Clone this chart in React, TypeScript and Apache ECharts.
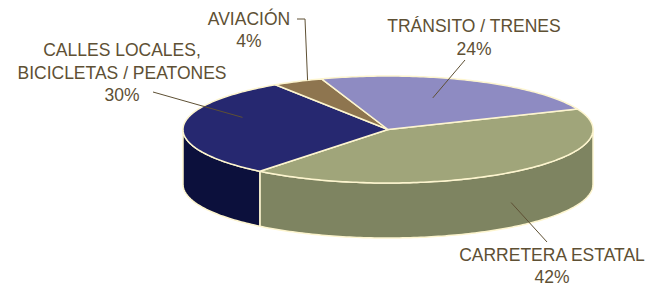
import React, { useEffect, useRef } from "react";
import * as echarts from "echarts";

// ---- data ----
const categories = [
  "CARRETERA ESTATAL",
  "CALLES LOCALES,\nBICICLETAS / PEATONES",
  "AVIACIÓN",
  "TRÁNSITO / TRENES",
];
const values = [42, 30, 4, 24];

// ---- styles ----
const topColors = ["#A0A57A", "#262870", "#8E754F", "#8E8BC2"];
const sideColors = ["#7E8461", "#0C103C", "#6E5A3A", "#6E6BA0"];
const EDGE = "#FDF5CF";
const TEXT = "#5E5034";

// ---- layout ----
const CX = 388;
const CY = 129.5;
const RX = 205;
const RY = 53.5;
const DEPTH = 55;
const START = -22.5;
const labelCenters = [
  [552, 266],
  [122, 72.5],
  [249, 30],
  [474, 37.5],
];
const anchorRadius = [1, 0.745, 1.0, 0.63];
const anchorAngleOffset = [0, 15, 3, -4];
const anchorDepth = [0.55, 0, 0, 0];
const leaderEnds = [
  [[547, 242]],
  [[153, 92]],
  [
    [305, 19],
    [297, 19],
  ],
  [[465, 60]],
];

const pt = (deg: number, dy = 0, k = 1) => {
  const r = (deg * Math.PI) / 180;
  return [CX + RX * k * Math.cos(r), CY + RY * k * Math.sin(r) + dy];
};

export default function App() {
  const ref = useRef<HTMLDivElement>(null);
  useEffect(() => {
    if (!ref.current) return;
    const chart = echarts.init(ref.current, null, { renderer: "svg" });
    const total = values.reduce((a, b) => a + b, 0);
    chart.setOption({
      animation: false,
      backgroundColor: "#ffffff",
      series: [
        {
          type: "custom",
          coordinateSystem: "none",
          data: values,
          renderItem: (params: any, api: any) => {
            const i = params.dataIndex;
            let a0 = START;
            for (let k = 0; k < i; k++) a0 += (values[k] / total) * 360;
            const a1 = a0 + (api.value(0) / total) * 360;
            const children: any[] = [];
            // side wall (only the front half is visible)
            for (const off of [-360, 0, 360]) {
              const lo = Math.max(a0, off);
              const hi = Math.min(a1, off + 180);
              if (hi > lo) {
                const top: number[][] = [];
                const bot: number[][] = [];
                const n = Math.max(2, Math.ceil(hi - lo));
                for (let s = 0; s <= n; s++) {
                  const d = lo + ((hi - lo) * s) / n;
                  top.push(pt(d));
                  bot.push(pt(d, DEPTH));
                }
                children.push({
                  type: "polygon",
                  z2: 1,
                  shape: { points: top.concat(bot.reverse()) },
                  style: { fill: sideColors[i], stroke: EDGE, lineWidth: 1.5, lineJoin: "round" },
                });
              }
            }
            // top face
            const pts: number[][] = [[CX, CY]];
            const n = Math.max(2, Math.ceil(a1 - a0));
            for (let s = 0; s <= n; s++) pts.push(pt(a0 + ((a1 - a0) * s) / n));
            children.push({
              type: "polygon",
              z2: 10,
              shape: { points: pts },
              style: { fill: topColors[i], stroke: EDGE, lineWidth: 1.5, lineJoin: "round" },
            });
            // leader line
            const mid = (a0 + a1) / 2 + anchorAngleOffset[i];
            const anchor = pt(mid, DEPTH * anchorDepth[i], anchorRadius[i]);
            children.push({
              type: "polyline",
              z2: 20,
              shape: { points: [anchor, ...leaderEnds[i]] },
              style: { stroke: TEXT, lineWidth: 1, fill: "none" },
            });
            // label
            children.push({
              type: "text",
              z2: 30,
              style: {
                text: categories[i] + "\n" + api.value(0) + "%",
                x: labelCenters[i][0],
                y: labelCenters[i][1],
                align: "center",
                verticalAlign: "middle",
                fontSize: 17.5,
                lineHeight: 22.5,
                fontFamily: "'Liberation Sans', Arial, sans-serif",
                fill: TEXT,
              },
            });
            return { type: "group", children };
          },
        },
      ],
    });
    return () => chart.dispose();
  }, []);
  return (
    <div
      ref={ref}
      style={{ position: "fixed", left: 0, top: 0, width: 660, height: 286, background: "#fff" }}
    />
  );
}
